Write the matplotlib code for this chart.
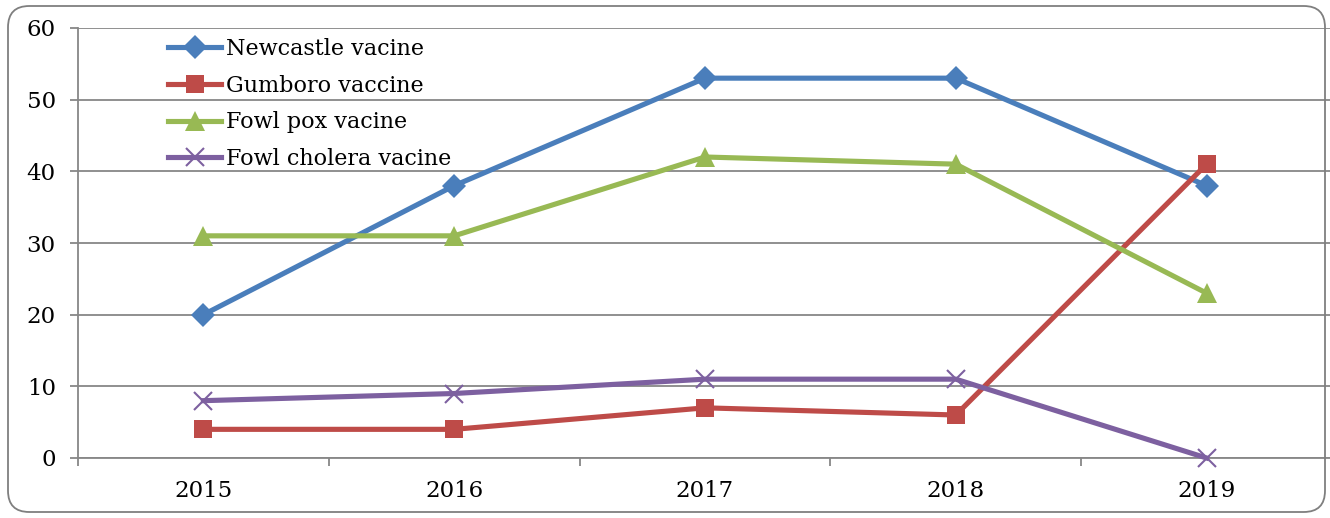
import matplotlib.pyplot as plt
from matplotlib.patches import FancyBboxPatch

years = ["2015", "2016", "2017", "2018", "2019"]
newcastle = [20, 38, 53, 53, 38]
gumboro = [4, 4, 7, 6, 41]
fowl_pox = [31, 31, 42, 41, 23]
fowl_cholera = [8, 9, 11, 11, 0]

series = [
    ("Newcastle vacine", newcastle, "#4A7EBB", "D", 12),
    ("Gumboro vaccine", gumboro, "#BE4B48", "s", 13.5),
    ("Fowl pox vacine", fowl_pox, "#98B954", "^", 14.5),
    ("Fowl cholera vacine", fowl_cholera, "#7D60A0", "x", 12.5),
]

plt.rcParams['font.family'] = ['DejaVu Serif']
grid_col = "#878787"

fig = plt.figure(figsize=(13.3, 5.18), dpi=100)
ax = fig.add_axes([78 / 1330, 60 / 518, 1254 / 1330, 430 / 518])

x = range(len(years))
for name, vals, col, mk, ms in series:
    kw = dict(color=col, lw=3.7, marker=mk, markersize=ms, label=name, clip_on=False, zorder=3)
    if mk == "x":
        kw.update(markeredgewidth=1.5)
    else:
        kw.update(markeredgewidth=0)
    ax.plot(x, vals, **kw)

ax.set_xlim(-0.5, len(years) - 0.5)
ax.set_ylim(0, 60)
ax.set_yticks(range(0, 61, 10))
ax.set_xticks(list(x))
ax.set_xticklabels(years)
ax.set_xticks([i - 0.5 for i in range(len(years) + 1)], minor=True)
ax.tick_params(axis="x", which="major", length=0, pad=16, labelsize=16.5)
ax.tick_params(axis="x", which="minor", length=6, width=1.3, color=grid_col, direction="out")
ax.tick_params(axis="y", length=6, width=1.3, color=grid_col, pad=10, labelsize=16.5)
ax.yaxis.grid(True, color=grid_col, lw=1.3)
ax.set_axisbelow(True)
for s in ["top", "right"]:
    ax.spines[s].set_visible(False)
for s in ["left", "bottom"]:
    ax.spines[s].set_color(grid_col)
    ax.spines[s].set_linewidth(1.3)

leg = ax.legend(loc="upper left", bbox_to_anchor=(168 / 1330, 1 - 38 / 518), bbox_transform=fig.transFigure,
                frameon=False, fontsize=16, handlelength=2.4, handletextpad=0.2,
                labelspacing=0.66, borderaxespad=0, borderpad=0)

border = FancyBboxPatch((8 / 1330, 6 / 518), 1317 / 1330, 506 / 518,
                        boxstyle="round,pad=0,rounding_size=0.016", transform=fig.transFigure,
                        facecolor="none", edgecolor="#7f7f7f", lw=1.3, mutation_aspect=1330 / 518)
fig.patches.append(border)

fig.savefig("out.png", dpi=100)
